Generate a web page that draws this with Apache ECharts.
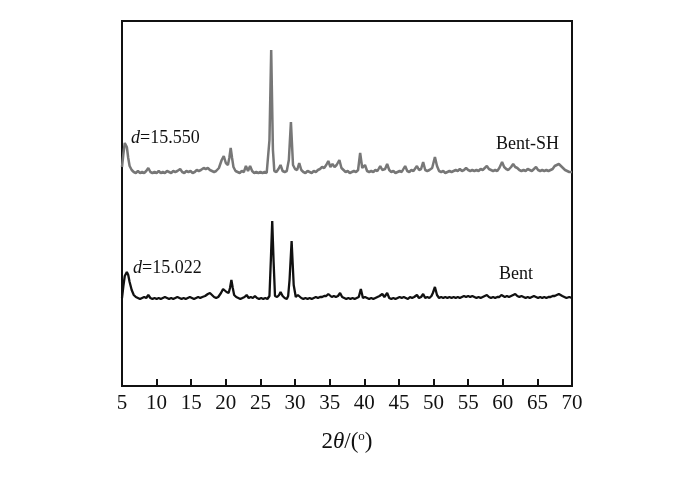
<!DOCTYPE html>
<html>
<head>
<meta charset="utf-8">
<script src="https://cdn.jsdelivr.net/npm/echarts@6/dist/echarts.min.js"></script>
<style>html,body{margin:0;padding:0;background:#fff}#c{width:700px;height:480px}</style>
</head>
<body>
<div id="c"></div>
<script>
// 2θ tick labels
var xTicks = [5,10,15,20,25,30,35,40,45,50,55,60,65,70];
// [2θ, intensity] (arbitrary units, curves offset as in the figure)
var bentSHData = [[5.0,219],[5.2,232],[5.4,243],[5.5,244],[5.7,239],[5.9,228],[6.1,220],[6.4,216],[6.7,214],[7.0,213],[7.3,215],[7.6,213],[7.9,214],[8.2,213],[8.5,215],[8.8,218],[9.1,214],[9.4,213],[9.7,214],[10.0,213],[10.3,215],[10.6,213],[10.9,214],[11.2,213],[11.5,215],[11.8,214],[12.1,213],[12.4,215],[12.7,214],[13.0,215],[13.4,217],[13.7,214],[14.0,213],[14.3,215],[14.6,214],[14.9,215],[15.2,213],[15.5,214],[15.8,216],[16.1,215],[16.4,216],[16.8,218],[17.1,217],[17.4,218],[17.7,216],[18.0,215],[18.3,214],[18.6,215],[19.0,218],[19.4,226],[19.7,230],[20.0,223],[20.3,221],[20.5,228],[20.7,238],[20.9,228],[21.1,219],[21.4,215],[21.7,214],[22.0,213],[22.3,215],[22.6,214],[22.9,220],[23.2,215],[23.5,220],[23.8,215],[24.1,213],[24.4,214],[24.7,213],[25.0,214],[25.3,213],[25.6,214],[25.9,213],[26.1,215],[26.3,246],[26.55,336],[26.8,236],[27.0,215],[27.3,214],[27.6,217],[27.9,221],[28.2,215],[28.5,214],[28.8,215],[29.1,226],[29.4,264],[29.7,221],[30.0,217],[30.3,216],[30.6,223],[30.9,216],[31.2,214],[31.5,213],[31.8,215],[32.1,214],[32.4,213],[32.7,215],[33.0,214],[33.3,216],[33.6,217],[33.9,219],[34.2,218],[34.5,221],[34.8,225],[35.1,219],[35.4,222],[35.7,219],[36.0,221],[36.4,226],[36.7,218],[37.0,216],[37.3,214],[37.6,215],[37.9,213],[38.2,214],[38.5,215],[38.8,214],[39.1,216],[39.4,233],[39.7,218],[40.1,221],[40.4,215],[40.7,214],[41.0,215],[41.3,214],[41.6,216],[41.9,215],[42.3,220],[42.6,216],[43.0,217],[43.3,222],[43.6,216],[43.9,214],[44.2,215],[44.5,213],[44.8,214],[45.1,215],[45.4,214],[45.9,220],[46.2,215],[46.5,214],[46.8,216],[47.1,215],[47.6,220],[47.9,216],[48.2,217],[48.5,224],[48.8,216],[49.1,215],[49.4,216],[49.8,218],[50.2,229],[50.5,220],[50.8,215],[51.1,214],[51.4,215],[51.7,213],[52.0,214],[52.3,215],[52.6,214],[52.9,215],[53.2,216],[53.5,215],[53.8,217],[54.1,215],[54.4,216],[54.7,218],[55.0,216],[55.3,215],[55.6,216],[55.9,215],[56.2,216],[56.5,215],[56.8,217],[57.1,216],[57.4,218],[57.7,220],[58.0,217],[58.3,216],[58.6,215],[58.9,216],[59.2,215],[59.5,218],[59.9,224],[60.2,219],[60.5,217],[60.8,216],[61.2,219],[61.5,222],[61.8,219],[62.1,218],[62.4,216],[62.7,215],[63.0,216],[63.3,215],[63.6,217],[63.9,216],[64.2,215],[64.5,217],[64.8,219],[65.1,216],[65.4,215],[65.7,216],[66.0,215],[66.3,216],[66.6,215],[66.9,216],[67.2,217],[67.5,220],[67.8,221],[68.1,222],[68.4,220],[68.7,218],[69.0,216],[69.3,215],[69.6,214],[70.0,214]];
var bentData = [[5.0,88],[5.2,100],[5.4,110],[5.7,114],[5.9,111],[6.1,104],[6.4,96],[6.7,91],[7.0,89],[7.3,88],[7.6,87],[7.9,88],[8.2,89],[8.5,88],[8.8,91],[9.1,88],[9.4,87],[9.7,88],[10.0,87],[10.3,88],[10.6,87],[10.9,88],[11.2,89],[11.5,88],[11.8,87],[12.1,88],[12.4,87],[12.7,88],[13.0,89],[13.3,88],[13.6,87],[13.9,88],[14.2,87],[14.5,88],[14.8,89],[15.1,88],[15.4,87],[15.7,88],[16.0,89],[16.3,88],[16.6,89],[17.0,90],[17.4,92],[17.7,93],[18.0,91],[18.3,89],[18.6,88],[18.9,89],[19.3,93],[19.6,97],[19.8,99],[20.1,94],[20.4,93],[20.6,98],[20.8,106],[21.0,98],[21.2,91],[21.5,89],[21.8,88],[22.1,87],[22.4,88],[22.7,89],[23.0,91],[23.3,88],[23.6,89],[23.9,88],[24.2,90],[24.5,88],[24.8,87],[25.1,88],[25.4,87],[25.7,88],[26.0,87],[26.3,90],[26.5,126],[26.7,165],[26.9,124],[27.1,90],[27.4,89],[27.7,91],[27.9,94],[28.2,90],[28.5,88],[28.8,87],[29.0,90],[29.2,106],[29.5,145],[29.8,101],[30.1,89],[30.4,91],[30.6,92],[30.9,88],[31.2,87],[31.5,88],[31.8,87],[32.1,88],[32.4,87],[32.7,88],[33.0,89],[33.3,88],[33.6,89],[33.9,89],[34.2,90],[34.5,90],[34.8,92],[35.0,93],[35.3,89],[35.6,90],[35.9,89],[36.2,90],[36.5,93],[36.8,89],[37.1,88],[37.4,87],[37.7,88],[38.0,87],[38.3,88],[38.6,87],[38.9,88],[39.2,89],[39.5,97],[39.8,88],[40.1,89],[40.4,88],[40.7,87],[41.0,88],[41.3,87],[41.6,88],[41.9,89],[42.2,90],[42.6,92],[42.9,89],[43.3,93],[43.6,88],[43.9,87],[44.2,88],[44.5,87],[44.8,88],[45.1,89],[45.4,88],[45.7,89],[46.0,88],[46.3,87],[46.6,89],[46.9,88],[47.2,89],[47.6,91],[47.9,88],[48.2,89],[48.5,92],[48.8,88],[49.1,89],[49.4,88],[49.7,90],[49.9,93],[50.2,99],[50.5,91],[50.8,88],[51.1,89],[51.4,88],[51.7,89],[52.0,88],[52.3,89],[52.6,88],[52.9,89],[53.2,88],[53.5,89],[53.8,88],[54.1,89],[54.4,90],[54.7,89],[55.0,90],[55.3,89],[55.6,90],[55.9,89],[56.2,88],[56.5,89],[56.8,88],[57.1,89],[57.4,90],[57.7,91],[58.0,89],[58.3,88],[58.6,89],[58.9,88],[59.2,89],[59.5,89],[59.8,91],[60.0,92],[60.3,89],[60.6,90],[60.9,89],[61.2,90],[61.5,91],[61.8,92],[62.1,90],[62.4,89],[62.7,90],[63.0,89],[63.3,88],[63.6,89],[63.9,88],[64.2,89],[64.5,90],[64.8,89],[65.1,88],[65.4,89],[65.7,88],[66.0,89],[66.3,88],[66.6,89],[66.9,89],[67.2,90],[67.5,90],[67.8,91],[68.1,92],[68.3,92],[68.6,90],[68.9,89],[69.2,88],[69.6,89],[70.0,88]];
// annotation texts
var labelSH = ['d', '=15.550'];
var labelBent = ['d', '=15.022'];

var chart = echarts.init(document.getElementById('c'));
var serif = '"Liberation Serif", "DejaVu Serif", serif';
function dLabel(parts){ return '{i|' + parts[0] + '}{n|' + parts[1] + '}'; }
var dRich = {
  i: { fontFamily: serif, fontSize: 18, fontStyle: 'italic', fill: '#111' },
  n: { fontFamily: serif, fontSize: 18, fill: '#111' }
};
chart.setOption({
  animation: false,
  backgroundColor: '#fff',
  grid: { left: 122, right: 128, top: 21, bottom: 94, show: true, borderColor: '#111', borderWidth: 2, backgroundColor: 'transparent' },
  xAxis: {
    type: 'value', min: 5, max: 70, interval: 5,
    axisLine: { show: true, lineStyle: { color: '#111', width: 2 } },
    axisTick: { show: true, inside: true, length: 7, lineStyle: { color: '#111', width: 2 } },
    axisLabel: { color: '#111', fontFamily: serif, fontSize: 21, margin: 7,
      formatter: function(v){ return xTicks.indexOf(v) >= 0 ? String(v) : ''; } },
    splitLine: { show: false },
    name: '{a|2}{b|θ}{a|/(}{s|o}{a|)}',
    nameLocation: 'middle', nameGap: 44,
    nameTextStyle: { rich: {
      a: { fontFamily: serif, fontSize: 23, color: '#111' },
      b: { fontFamily: serif, fontSize: 23, fontStyle: 'italic', color: '#111' },
      s: { fontFamily: serif, fontSize: 13, color: '#111', verticalAlign: 'top', padding: [0,0,9,0] }
    } }
  },
  yAxis: {
    type: 'value', min: 0, max: 365,
    axisLine: { show: true, lineStyle: { color: '#111', width: 2 } },
    axisTick: { show: false }, axisLabel: { show: false }, splitLine: { show: false }
  },
  series: [
    { name: 'Bent-SH', type: 'line', data: bentSHData, showSymbol: false, smooth: false,
      lineStyle: { color: '#777777', width: 2.5 }, z: 2 },
    { name: 'Bent', type: 'line', data: bentData, showSymbol: false, smooth: false,
      lineStyle: { color: '#111111', width: 2.3 }, z: 3 }
  ],
  graphic: [
    { type: 'text', left: 131, top: 129, style: { text: dLabel(labelSH), rich: dRich } },
    { type: 'text', left: 133, top: 259, style: { text: dLabel(labelBent), rich: dRich } },
    { type: 'text', left: 496, top: 135, style: { text: 'Bent-SH', fontFamily: serif, fontSize: 18, fill: '#111' } },
    { type: 'text', left: 499, top: 265, style: { text: 'Bent', fontFamily: serif, fontSize: 18, fill: '#111' } }
  ]
});
</script>
</body>
</html>
